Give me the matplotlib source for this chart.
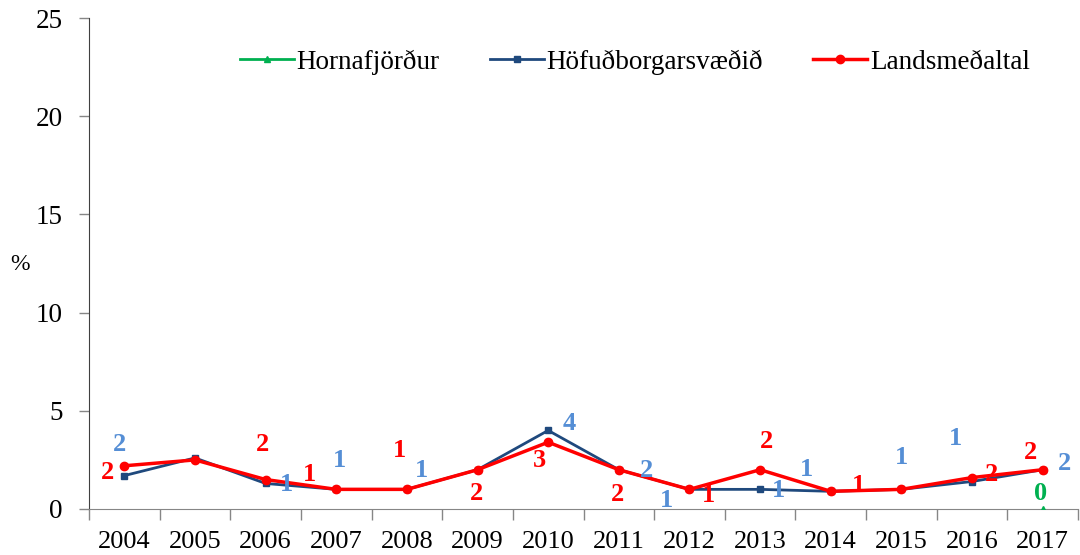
import numpy as np
import matplotlib
matplotlib.use("Agg")
import matplotlib.pyplot as plt

plt.rcParams['font.family'] = ['Liberation Serif', 'DejaVu Serif']

years = ["2004", "2005", "2006", "2007", "2008", "2009", "2010",
         "2011", "2012", "2013", "2014", "2015", "2016", "2017"]
hornafjordur = [np.nan] * 13 + [0.0]
hofudborg = [1.7, 2.6, 1.3, 1.0, 1.0, 2.0, 4.0, 2.0, 1.0, 1.0, 0.9, 1.0, 1.4, 2.0]
landsmedaltal = [2.2, 2.5, 1.5, 1.0, 1.0, 2.0, 3.4, 2.0, 1.0, 2.0, 0.9, 1.0, 1.6, 2.0]

# which points get a data label (Excel left some out)
hofud_shown = [1, 0, 1, 1, 1, 0, 1, 1, 1, 1, 1, 1, 1, 1]
lands_shown = [1, 0, 1, 1, 1, 1, 1, 1, 1, 1, 1, 0, 1, 1]

# label offsets in pixels (dx, dy)
hofud_off = [(-5, 31), (0, 0), (21, -1), (3, 29), (15, 19), (0, 0), (21, 7),
             (28, -1), (-23, -11), (18, -1), (-24, 22), (0, 32), (-17, 43), (22, 6)]
lands_off = [(-17, -7), (0, 0), (-3, 35), (-27, 15), (-7, 39), (-1, -24), (-9, -18),
             (-1, -25), (19, -6), (6, 28), (28, 6), (0, 0), (19, 3), (-12, 17)]

green = "#00B050"
blue = "#1F497D"
blue_lbl = "#558ED5"
red = "#FF0000"
spine_col = "#868686"

fig = plt.figure(figsize=(10.8, 5.55), dpi=100)
ax = fig.add_axes([89 / 1080, 1 - 509 / 555, (1078 - 89) / 1080, (509 - 18) / 555])

x = np.arange(len(years))
ax.plot(x, hornafjordur, color=green, lw=2, marker="^", ms=5, label="Hornafjörður", zorder=3)
ax.plot(x, hofudborg, color=blue, lw=2, marker="s", ms=5, label="Höfuðborgarsvæðið", zorder=4)
ax.plot(x, landsmedaltal, color=red, lw=2.5, marker="o", ms=6, label="Landsmeðaltal", zorder=5)

lbl_size = 19
for i in range(len(years)):
    if hofud_shown[i]:
        ax.annotate(f"{hofudborg[i]:.0f}", (x[i], hofudborg[i]), xytext=hofud_off[i],
                    textcoords="offset pixels", ha="center", va="center",
                    fontsize=lbl_size, fontweight="bold", color=blue_lbl, zorder=6)
    if lands_shown[i]:
        ax.annotate(f"{landsmedaltal[i]:.0f}", (x[i], landsmedaltal[i]), xytext=lands_off[i],
                    textcoords="offset pixels", ha="center", va="center",
                    fontsize=lbl_size, fontweight="bold", color=red, zorder=6)
ax.annotate(f"{hornafjordur[-1]:.0f}", (x[-1], hornafjordur[-1]), xytext=(-2, 16),
            textcoords="offset pixels", ha="center", va="center",
            fontsize=lbl_size, fontweight="bold", color=green, zorder=6)

ax.set_xlim(-0.5, len(years) - 0.5)
ax.set_ylim(0, 25)
ax.set_yticks([0, 5, 10, 15, 20, 25])
ax.set_xticks(x)
ax.set_xticklabels(years)
ax.set_xticks(np.arange(-0.5, len(years), 1), minor=True)
ax.tick_params(axis="x", which="major", length=0, labelsize=19, pad=16)
ax.tick_params(axis="x", which="minor", length=8, width=1, color=spine_col, direction="out")
ax.tick_params(axis="y", length=7, width=1, color=spine_col, labelsize=19.5, pad=12)

for s in ["top", "right"]:
    ax.spines[s].set_visible(False)
ax.spines["left"].set_color("#404040")
ax.spines["bottom"].set_color(spine_col)

fig.text(20 / 1080, 1 - 265 / 555, "%", fontsize=17, ha="center", va="center")

ax.legend(loc="center right", bbox_to_anchor=(1030 / 1080, 1 - 62 / 555),
          bbox_transform=fig.transFigure, ncol=3, frameon=False,
          fontsize=19.5, handlelength=2.0, handletextpad=0.1, columnspacing=1.85,
          borderaxespad=0, borderpad=0)

fig.savefig("out.png", dpi=100)
